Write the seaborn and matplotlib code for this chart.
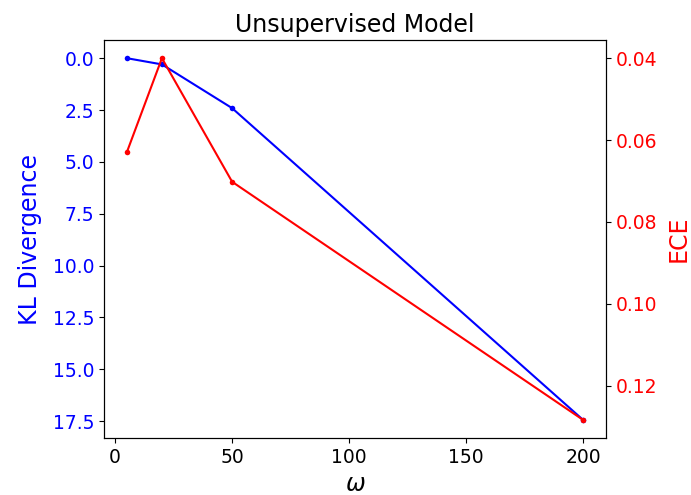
import matplotlib
matplotlib.use("Agg")
import matplotlib.pyplot as plt
import seaborn as sns
import pandas as pd

omega = [5, 20, 50, 200]
kl_divergence = [0.0, 0.3, 2.41, 17.45]
ece = [0.063, 0.040, 0.0702, 0.1284]

df = pd.DataFrame({"omega": omega, "kl": kl_divergence, "ece": ece})

plt.rcParams["font.family"] = ["DejaVu Sans"]
fs = 13.5
lfs = 17

fig = plt.figure(figsize=(6.91, 4.95), dpi=100)
ax = fig.add_axes([0.1505, 0.115, 0.7265, 0.804])
sns.lineplot(data=df, x="omega", y="kl", color="blue", marker="o",
             markersize=4, markeredgewidth=0, linewidth=1.5, ax=ax)
ax.invert_yaxis()
ax.set_xlabel(r"$\omega$", fontsize=lfs)
ax.set_ylabel("KL Divergence", color="blue", fontsize=lfs, labelpad=8)
ax.tick_params(axis="y", labelcolor="blue", labelsize=fs)
ax.tick_params(axis="x", labelsize=fs)
ax.set_title("Unsupervised Model", fontsize=lfs)

ax2 = ax.twinx()
sns.lineplot(data=df, x="omega", y="ece", color="red", marker="o",
             markersize=4, markeredgewidth=0, linewidth=1.5, ax=ax2)
ax2.invert_yaxis()
ax2.set_ylabel("ECE", color="red", fontsize=lfs, labelpad=7)
ax2.tick_params(axis="y", labelcolor="red", labelsize=fs)
ax2.set_yticks([0.04, 0.06, 0.08, 0.10, 0.12])

fig.savefig("out.png", dpi=100)
